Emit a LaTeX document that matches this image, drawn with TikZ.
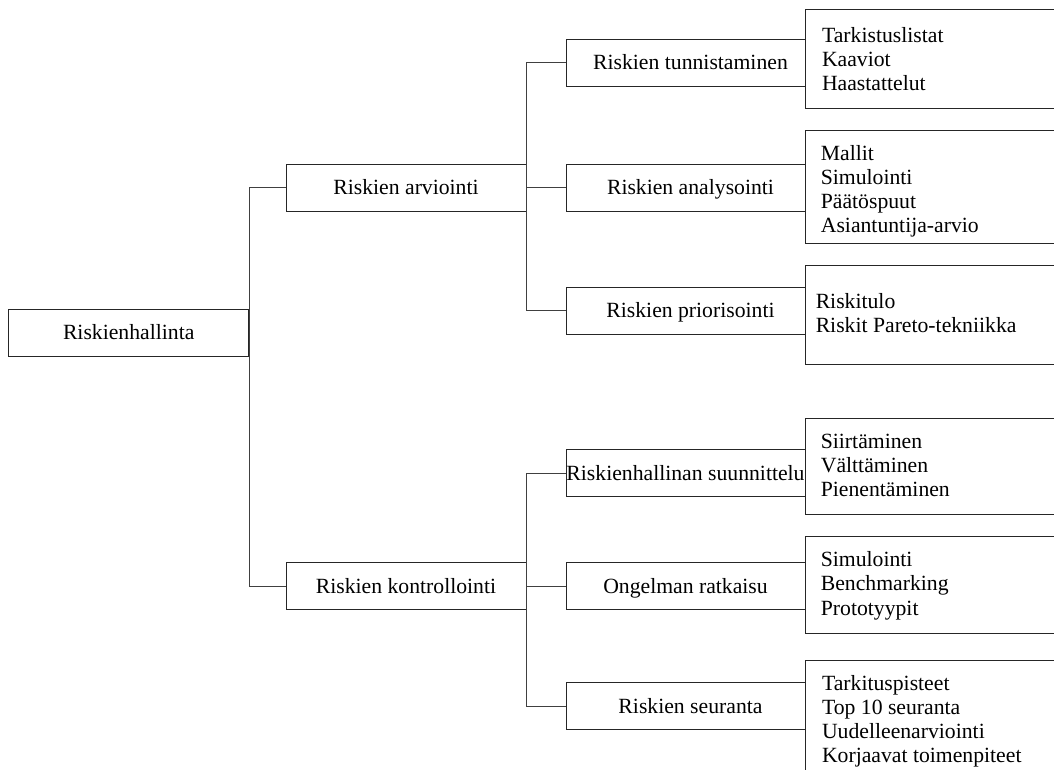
\documentclass[tikz,border=0pt]{standalone}
\usepackage{fontspec}
\setmainfont{Liberation Serif}
\begin{document}
\begin{tikzpicture}[x=1pt,y=-1pt,
  line width=0.9pt,
  every node/.style={font=\fontsize{21.7}{24.3}\selectfont},
  box/.style={draw=black!85, inner sep=0pt, minimum height=47pt,
              text height=19pt, text depth=5pt},
  rootbox/.style={box, minimum width=240pt},
  midbox/.style={box, minimum width=240pt},
  subbox/.style={box, minimum width=239pt},
  % label sits a little right of the box centre
  rightlabel/.style={execute at begin node={\hspace*{10pt}}},
  listbox/.style={draw=black!85, inner sep=0pt, anchor=north west,
                  minimum width=300pt},
  listtext/.style={inner sep=0pt, anchor=base west},
  link/.style={draw=black!75}]
\useasboundingbox (0,0) rectangle (1054,769);
\clip (0,0) rectangle (1054,769);

% root
\node[rootbox] (root) at (128.7,332.5) {Riskienhallinta};

% second level
\node[midbox] (arv) at (406,187.5) {Riskien arviointi};
\node[midbox] (kon) at (406,586) {Riskien kontrollointi};

% third level
\node[subbox, rightlabel] (tun) at (685.5,62.5)  {Riskien tunnistaminen};
\node[subbox, rightlabel] (ana) at (685.5,187.5) {Riskien analysointi};
\node[subbox, rightlabel] (pri) at (685.5,310.5) {Riskien priorisointi};
\node[subbox] (sun) at (685.5,473)   {Riskienhallinan suunnittelu};
\node[subbox] (ong) at (685.5,586)   {Ongelman ratkaisu};
\node[subbox, rightlabel] (seu) at (685.5,706.3) {Riskien seuranta};

% method lists
\node[listbox, minimum height=98.7pt]  (b1) at (805,9.3)   {};
\node[listbox, minimum height=113pt]   (b2) at (805,130)   {};
\node[listbox, minimum height=99pt]    (b3) at (805,265)   {};
\node[listbox, minimum height=96.5pt]  (b4) at (805,417.5) {};
\node[listbox, minimum height=97pt]    (b5) at (805,536)   {};
\node[listbox, minimum height=120pt]   (b6) at (805,660)   {};

\node[listtext] (t1) at (821.6,42) {\begin{tabular}[t]{@{}l@{}}Tarkistuslistat\\Kaaviot\\Haastattelut\end{tabular}};
\node[listtext] (t2) at (820.4,160) {\begin{tabular}[t]{@{}l@{}}Mallit\\Simulointi\\Päätöspuut\\Asiantuntija-arvio\end{tabular}};
\node[listtext] (t3) at (815.3,308) {\begin{tabular}[t]{@{}l@{}}Riskitulo\\Riskit Pareto-tekniikka\end{tabular}};
\node[listtext] (t4) at (820.4,448) {\begin{tabular}[t]{@{}l@{}}Siirtäminen\\Välttäminen\\Pienentäminen\end{tabular}};
\node[listtext] (t5) at (820.4,566.5) {\begin{tabular}[t]{@{}l@{}}Simulointi\\Benchmarking\\Prototyypit\end{tabular}};
\node[listtext] (t6) at (821.6,690) {\begin{tabular}[t]{@{}l@{}}Tarkituspisteet\\Top 10 seuranta\\Uudelleenarviointi\\Korjaavat toimenpiteet\end{tabular}};

% connectors
\path[link] (arv.west) -| (root.east);
\path[link] (kon.west) -| (root.east);
\path[link] (tun.west) -| (arv.east);
\path[link] (ana.west) -- (arv.east);
\path[link] (pri.west) -| (arv.east);
\path[link] (sun.west) -| (kon.east);
\path[link] (ong.west) -- (kon.east);
\path[link] (seu.west) -| (kon.east);
\end{tikzpicture}
\end{document}
